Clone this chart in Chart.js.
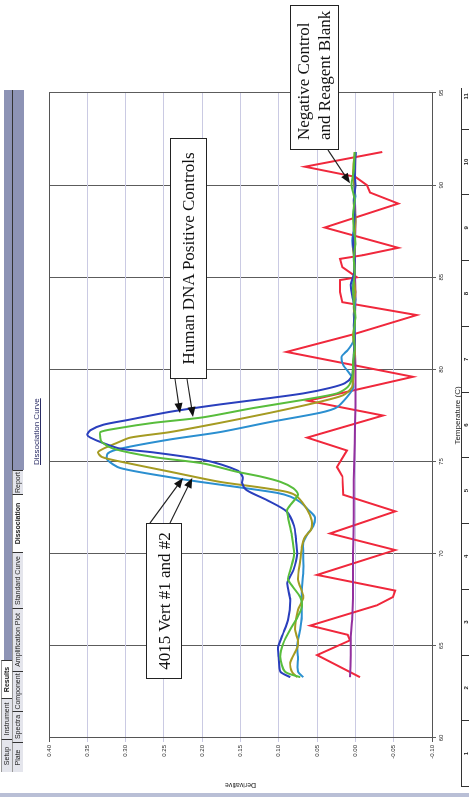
<!DOCTYPE html>
<html>
<head>
<meta charset="utf-8">
<script src="https://cdn.jsdelivr.net/npm/chart.js@4.4.0/dist/chart.umd.min.js"></script>
<style>
  html, body { margin: 0; padding: 0; background: #fff; overflow: hidden; }
  body { width: 469px; height: 797px; position: relative; }
  /* the whole printout is turned on its side, so lay it out landscape and rotate */
  #sheet {
    position: absolute; left: 0; top: 0; width: 797px; height: 469px;
    transform-origin: 0 0; transform: translate(0, 797px) rotate(-90deg);
    font-family: "Liberation Sans", Arial, sans-serif; background: #fff;
  }
  #sheet canvas { position: absolute; left: 0; top: 0; }
  .band { position: absolute; background: #8d93b5; }
  .tab {
    position: absolute; box-sizing: border-box; height: 11px; font-size: 7px; line-height: 10px;
    text-align: center; background: #e4e5ec; color: #222; border-right: 1px solid #333;
    border-top: 1px solid #999; white-space: nowrap; overflow: hidden;
  }
  .tab.on { background: #fff; font-weight: bold; }
  .title { position: absolute; font-size: 8px; color: #2b2d66; text-decoration: underline; white-space: nowrap; }
  .note {
    position: absolute; box-sizing: border-box; border: 1.4px solid #222; background: #fff;
    font-family: "Liberation Serif", "Times New Roman", serif; font-size: 17px; line-height: 21px; color: #111;
    white-space: nowrap;
  }
  #rulerWrap { position: absolute; left: 10px; top: 461px; width: 699px; height: 8px; overflow: hidden; border-top: 1px solid #333; }
  #ruler { width: 723px; height: 8px; display: flex; }
  #ruler div { flex: 1; border-left: 1px solid #333; font-size: 6px; font-weight: bold; text-align: center; line-height: 8px; color: #222; }
</style>
</head>
<body>
<div id="sheet">
  <canvas id="meltChart" width="797" height="469"></canvas>

  <!-- tab strip of the instrument software -->
  <div class="band" style="left:137px; top:4px; width:570px; height:8px;"></div>
  <div class="band" style="left:327px; top:12px; width:380px; height:11px; border-top:1px solid #333;"></div>
  <div class="tab" style="left:25px; top:1px; width:33px;">Setup</div>
  <div class="tab" style="left:58px; top:1px; width:41px;">Instrument</div>
  <div class="tab on" style="left:99px; top:1px; width:38px;">Results</div>
  <div class="tab" style="left:25px; top:12px; width:30px;">Plate</div>
  <div class="tab" style="left:55px; top:12px; width:31px;">Spectra</div>
  <div class="tab" style="left:86px; top:12px; width:40px;">Component</div>
  <div class="tab" style="left:126px; top:12px; width:63px;">Amplification Plot</div>
  <div class="tab" style="left:189px; top:12px; width:56px;">Standard Curve</div>
  <div class="tab on" style="left:245px; top:12px; width:58px;">Dissociation</div>
  <div class="tab" style="left:303px; top:12px; width:24px;">Report</div>
  <div style="position:absolute; left:0; top:0; width:4px; height:469px; background:#b9bfd6;"></div>

  <div class="title" style="left:332px; top:32px;">Dissociation Curve</div>

  <div class="note" style="left:647px; top:290px; width:145px; height:49px; padding:2px 0 0 9px;">Negative Control<br>and Reagent Blank</div>
  <div class="note" style="left:418px; top:170px; width:241px; height:37px; padding-top:7px; text-align:center;">Human DNA Positive Controls</div>
  <div class="note" style="left:118px; top:146px; width:156px; height:36px; padding-top:7px; text-align:center;">4015 Vert #1 and #2</div>

  <div id="rulerWrap"><div id="ruler"><div>1</div><div>2</div><div>3</div><div>4</div><div>5</div><div>6</div><div>7</div><div>8</div><div>9</div><div>10</div><div>11</div></div></div>
</div>

<script>
// ── Values (Temperature °C → derivative) ──
const blueTemp  = [63.3, 63.6, 64.3, 64.9, 65.6, 66.4, 67.5, 68.4, 69.1, 70.0, 70.9, 71.5, 72.3, 72.9, 73.45, 73.85, 74.15, 74.5, 75.1, 75.5,
                   75.7, 76.0, 76.3, 76.45, 76.7, 77.0, 77.25, 77.7, 78.1, 78.45, 78.7, 79.0, 79.25, 79.6, 80.1, 80.8, 81.6, 82.4, 83.2, 84.0,
                   84.6, 85.2, 86.0, 86.8, 87.6, 88.4, 89.2, 90.0, 90.8, 91.8];
const blueDeriv = [0.085, 0.098, 0.100, 0.101, 0.095, 0.088, 0.085, 0.089, 0.081, 0.076, 0.078, 0.080, 0.090, 0.115, 0.142, 0.148, 0.147, 0.153, 0.199, 0.264,
                   0.307, 0.329, 0.346, 0.350, 0.346, 0.329, 0.298, 0.242, 0.177, 0.111, 0.068, 0.033, 0.014, 0.005, 0.003, 0.002, 0.001, 0.002, 0.001, 0.004,
                   0.006, 0.002, 0.001, 0.003, 0.002, 0.001, 0.002, 0.000, 0.001, 0.000];

const greenTemp  = [63.3, 63.6, 64.4, 65.15, 65.9, 66.6, 67.1, 67.65, 68.6, 69.1, 70.0, 71.0, 71.6, 72.0, 72.4, 73.2, 73.55, 73.9, 74.2, 74.45,
                    74.9, 75.25, 75.7, 76.05, 76.3, 76.6, 76.8, 77.1, 77.4, 77.9, 78.35, 78.7, 79.05, 79.6, 80.4, 81.2, 82.0, 82.8, 83.6, 84.4,
                    85.2, 86.0, 86.8, 87.6, 88.4, 89.2, 90.0, 90.8, 91.8];
const greenDeriv = [0.072, 0.092, 0.098, 0.094, 0.085, 0.075, 0.070, 0.072, 0.088, 0.085, 0.080, 0.083, 0.086, 0.088, 0.089, 0.075, 0.081, 0.098, 0.125, 0.155,
                    0.199, 0.264, 0.316, 0.331, 0.333, 0.333, 0.311, 0.264, 0.199, 0.134, 0.068, 0.024, 0.010, 0.004, 0.003, 0.001, 0.002, 0.000, 0.002, 0.003,
                    0.001, 0.002, 0.000, 0.002, 0.003, 0.001, 0.005, 0.002, 0.001];

const oliveTemp  = [63.3, 63.6, 64.1, 64.9, 65.3, 65.9, 66.95, 67.65, 68.6, 69.65, 70.35, 70.9, 71.3, 71.8, 72.4, 73.1, 73.35, 73.6, 73.9, 74.45,
                    75.0, 75.25, 75.5, 75.7, 76.0, 76.3, 76.6, 77.1, 77.65, 78.25, 78.6, 79.0, 79.4, 80.2, 81.0, 81.8, 82.6, 83.4, 84.2, 85.0,
                    85.8, 86.6, 87.4, 88.2, 89.0, 89.8, 90.6, 91.8];
const oliveDeriv = [0.076, 0.083, 0.085, 0.076, 0.075, 0.079, 0.075, 0.068, 0.075, 0.072, 0.070, 0.066, 0.058, 0.057, 0.063, 0.076, 0.089, 0.125, 0.177, 0.242,
                    0.307, 0.331, 0.336, 0.329, 0.312, 0.294, 0.242, 0.177, 0.111, 0.046, 0.016, 0.005, 0.003, 0.002, 0.001, 0.003, 0.001, 0.002, 0.000, 0.002,
                    0.001, 0.003, 0.001, 0.000, 0.002, 0.001, 0.003, 0.001];

const cyanTemp  = [63.3, 63.6, 64.4, 65.05, 65.9, 66.6, 68.0, 69.0, 70.0, 70.6, 71.1, 71.5, 72.0, 72.4, 72.8, 73.1, 73.3, 73.6, 73.9, 74.15,
                   74.65, 75.1, 75.45, 75.7, 76.2, 76.6, 77.15, 77.65, 77.95, 78.5, 79.0, 79.6, 80.25, 80.7, 81.05, 81.5, 82.2, 83.0, 83.8, 84.6,
                   85.4, 86.2, 87.0, 87.8, 88.6, 89.4, 90.2, 91.0, 91.8];
const cyanDeriv = [0.068, 0.075, 0.075, 0.076, 0.072, 0.070, 0.070, 0.068, 0.068, 0.068, 0.062, 0.055, 0.053, 0.062, 0.072, 0.085, 0.102, 0.151, 0.203, 0.242,
                   0.307, 0.324, 0.323, 0.307, 0.242, 0.177, 0.111, 0.046, 0.024, 0.011, 0.003, 0.005, 0.016, 0.018, 0.010, 0.003, 0.001, 0.002, 0.000, 0.003,
                   0.001, 0.002, 0.004, 0.001, 0.002, 0.000, 0.002, 0.001, 0.000];

const purpleTemp  = [63.3, 64.5, 65.5, 66.5, 68.0, 70.0, 72.0, 74.0, 76.0, 78.0, 80.0, 82.0, 84.0, 86.0, 88.0, 90.0, 91.8];
const purpleDeriv = [0.007, 0.006, 0.006, 0.004, 0.003, 0.003, 0.002, 0.002, 0.001, 0.000, 0.000, 0.001, 0.000, 0.001, 0.000, 0.001, 0.000];

const redTemp  = [63.3, 64.5, 65.3, 65.6, 66.1, 67.2, 67.65, 68.0, 68.85, 70.2, 71.1, 72.3, 73.2, 74.2, 74.7, 75.6, 76.3, 77.5, 78.3, 79.6,
                  80.95, 81.9, 82.95, 83.65, 84.2, 84.85, 85.0, 85.55, 86.0, 86.2, 86.6, 87.7, 89.0, 89.6, 90.0, 90.45, 91.0, 91.8];
const redDeriv = [-0.006, 0.050, 0.007, 0.010, 0.059, -0.028, -0.049, -0.052, 0.050, -0.052, 0.033, -0.052, 0.016, 0.017, 0.024, 0.011, 0.063, -0.036, 0.062, -0.075,
                  0.090, 0.003, -0.080, 0.017, 0.020, 0.020, -0.002, 0.017, 0.020, -0.010, -0.056, 0.040, -0.056, -0.019, -0.015, 0.000, 0.066, -0.035];

// callout arrows: where each one starts (box edge, sheet pixels) and the curve point it points at
const noteArrows = [
    { fromX: 647, fromY: 328, temp: 90.1,  deriv: 0.007 },
    { fromX: 418, fromY: 175, temp: 77.63, deriv: 0.229 },
    { fromX: 418, fromY: 187, temp: 77.42, deriv: 0.212 },
    { fromX: 274, fromY: 150, temp: 74.11, deriv: 0.225 },
    { fromX: 274, fromY: 170, temp: 74.11, deriv: 0.213 }
];

const pts = (t, d) => t.map((v, i) => ({ x: v, y: d[i] }));

const line = (label, t, d, color, tension) => ({
    label, data: pts(t, d), borderColor: color, borderWidth: 2,
    pointRadius: 0, tension: tension, fill: false
});

const arrowPlugin = {
    id: 'noteArrows',
    afterDraw(chart) {
        const { ctx, scales: { x, y } } = chart;
        ctx.save();
        ctx.strokeStyle = '#222';
        ctx.fillStyle = '#111';
        ctx.lineWidth = 1.2;
        noteArrows.forEach(a => {
            const tx = x.getPixelForValue(a.temp), ty = y.getPixelForValue(a.deriv);
            const ang = Math.atan2(ty - a.fromY, tx - a.fromX);
            ctx.beginPath();
            ctx.moveTo(a.fromX, a.fromY);
            ctx.lineTo(tx - Math.cos(ang) * 6, ty - Math.sin(ang) * 6);
            ctx.stroke();
            ctx.beginPath();
            ctx.moveTo(tx, ty);
            ctx.lineTo(tx - Math.cos(ang) * 10 + Math.sin(ang) * 4, ty - Math.sin(ang) * 10 - Math.cos(ang) * 4);
            ctx.lineTo(tx - Math.cos(ang) * 10 - Math.sin(ang) * 4, ty - Math.sin(ang) * 10 + Math.cos(ang) * 4);
            ctx.closePath();
            ctx.fill();
        });
        ctx.restore();
    }
};

const isEdge = v => Math.abs(v - 0.4) < 1e-6 || Math.abs(v + 0.1) < 1e-6;

new Chart(document.getElementById('meltChart'), {
    type: 'line',
    data: {
        datasets: [
            line('Green',  greenTemp,  greenDeriv,  '#58bd3c', 0.25),
            line('Blue',   blueTemp,   blueDeriv,   '#2a3fbd', 0.25),
            line('Olive',  oliveTemp,  oliveDeriv,  '#a59b22', 0.25),
            line('Cyan',   cyanTemp,   cyanDeriv,   '#2b8fd0', 0.25),
            line('Purple', purpleTemp, purpleDeriv, '#93309f', 0.2),
            line('Red',    redTemp,    redDeriv,    '#f0283c', 0)
        ]
    },
    options: {
        responsive: false,
        animation: false,
        devicePixelRatio: 1,
        layout: { padding: { top: 49, right: 93, bottom: 0, left: 0 } },
        plugins: { legend: { display: false }, tooltip: { enabled: false } },
        scales: {
            x: {
                type: 'linear', min: 60, max: 95,
                afterFit: s => { s.height = 37; },
                ticks: { stepSize: 5, padding: 2, color: '#333', font: { family: 'Liberation Sans', size: 6 } },
                grid: { color: '#5c5c5c', lineWidth: 1, tickLength: 4 },
                border: { color: '#555' },
                title: { display: true, text: 'Temperature (C)', color: '#222', padding: { top: 0, bottom: 6 },
                         font: { family: 'Liberation Sans', size: 8 } }
            },
            y: {
                min: -0.10, max: 0.40,
                afterFit: s => { s.width = 59; },
                ticks: { stepSize: 0.05, padding: 3, color: '#333', font: { family: 'Liberation Sans', size: 6 },
                         callback: v => (Math.abs(v) < 1e-9 ? 0 : v).toFixed(2) },
                grid: { color: c => isEdge(c.tick.value) ? '#555' : '#cacae3', lineWidth: 1, tickLength: 4 },
                border: { color: '#555' },
                title: { display: true, text: 'Derivative', color: '#222', padding: { top: 8, bottom: 0 },
                         font: { family: 'Liberation Sans', size: 7 } }
            }
        }
    },
    plugins: [arrowPlugin]
});
</script>
</body>
</html>
